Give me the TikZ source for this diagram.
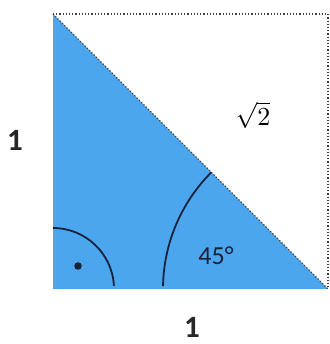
\documentclass[tikz,border=0pt]{standalone}
\usepackage{fontspec}
\newfontfamily\labelfont{Carlito}
\definecolor{triblue}{RGB}{76,166,238}
\definecolor{navy}{RGB}{22,34,60}
\begin{document}
\begin{tikzpicture}[x=1pt,y=1pt]
        \tikzstyle{edge} = [draw=black!75, line width=1.2pt, dotted]
        \tikzstyle{angle} = [draw=navy, line width=1.8pt]
        \tikzstyle{side} = [font=\labelfont\bfseries\fontsize{31}{31}\selectfont, text=black!85, inner sep=0pt]

		\useasboundingbox (0,0) rectangle (329,-344);

		\coordinate (A) at (53,-14);
		\coordinate (B) at (53,-289);
		\coordinate (C) at (328,-289);
		\coordinate (D) at (328,-14);

		\fill[triblue] (A) -- (B) -- (C) -- cycle;
		\draw[edge] (A) -- (D) -- (C);
		\draw[edge] (A) -- (C);

		\draw[angle] (B) ++(90:61) arc (90:3:61);
		\fill[navy] (78,-266) circle (3.8pt);
		\draw[angle] (C) ++(179:165) arc (179:135:165);

		\node[side] (left) at (15,-140) {1};
		\node[side] (bottom) at (192,-327) {1};
		\node[font=\labelfont\fontsize{26}{26}\selectfont, text=navy] (ang) at (216,-256) {45°};
		\node (hyp) at (253,-115) {\scalebox{2.6}{$\sqrt{2}$}};

    \end{tikzpicture}
\end{document}
